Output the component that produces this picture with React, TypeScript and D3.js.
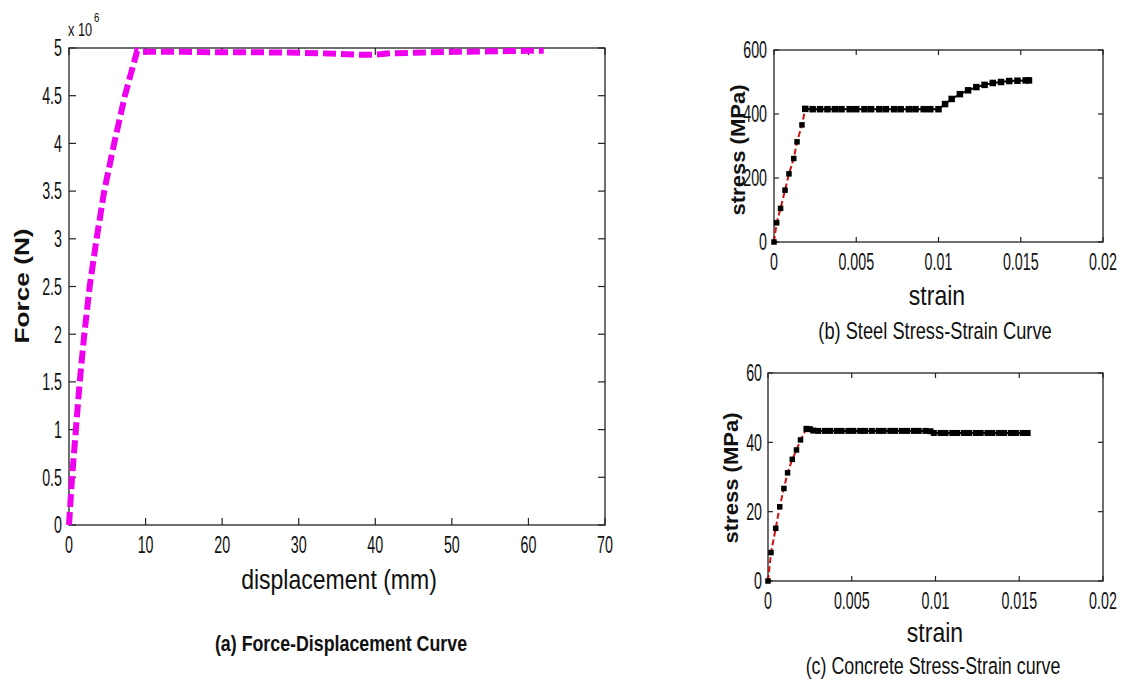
import React from "react";
import * as d3 from "d3";

// ---------- Data ----------
// (a) Force-Displacement (force in 1e6 N)
const fdDisp = [0, 0.4, 0.9, 1.4, 2.0, 2.7, 3.6, 4.6, 5.9, 7.3, 8.9, 9.5, 15, 20, 25, 30, 35, 38, 40, 42, 45, 50, 55, 60, 62];
const fdForce = [0, 0.5, 1.0, 1.5, 2.0, 2.5, 3.0, 3.5, 4.0, 4.5, 4.97, 4.96, 4.96, 4.955, 4.955, 4.95, 4.94, 4.93, 4.93, 4.945, 4.95, 4.96, 4.965, 4.97, 4.97];
const fdXTicks = [0, 10, 20, 30, 40, 50, 60, 70];
const fdYTicks = [0, 0.5, 1, 1.5, 2, 2.5, 3, 3.5, 4, 4.5, 5];
const fdYTickLabels = ["0", "0.5", "1", "1.5", "2", "2.5", "3", "3.5", "4", "4.5", "5"];

// (b) Steel stress-strain
const steelElasticStrain = [0, 0.00016, 0.0004, 0.00067, 0.00091, 0.0012, 0.0014, 0.0017, 0.0019];
const steelElasticStress = [0, 60, 105, 162, 213, 261, 313, 366, 416];
const steelPlasticStrain = [0.0019, 0.00235, 0.0028, 0.00325, 0.0037, 0.0041, 0.0046, 0.005, 0.0055, 0.0059, 0.0064, 0.0068, 0.0073, 0.0077, 0.0082, 0.0086, 0.0091, 0.0095, 0.01, 0.0104, 0.0108, 0.0113, 0.0118, 0.0123, 0.0128, 0.0133, 0.0138, 0.0143, 0.0148, 0.0153, 0.0155];
const steelPlasticStress = [416, 415, 415, 415, 415, 415, 415, 415, 415, 415, 415, 415, 415, 415, 415, 415, 415, 415, 415, 431, 447, 462, 474, 484, 491, 497, 500, 503, 504, 505, 505];
const steelYTicks = [0, 200, 400, 600];

// (c) Concrete stress-strain
const concElasticStrain = [0, 0.00018, 0.00046, 0.0007, 0.00095, 0.00117, 0.00145, 0.0017, 0.00194, 0.0023];
const concElasticStress = [0, 8.2, 15.2, 21.4, 26.7, 31.2, 35.1, 37.8, 40.7, 43.9];
const concPlasticStrain = [0.0023, 0.0025, 0.0027, 0.003, 0.0034, 0.0037, 0.0041, 0.0044, 0.0048, 0.0051, 0.0055, 0.0058, 0.0062, 0.0066, 0.0069, 0.0073, 0.0076, 0.008, 0.0083, 0.0087, 0.009, 0.0094, 0.0097, 0.0099, 0.0103, 0.0106, 0.011, 0.0113, 0.0117, 0.012, 0.0124, 0.0127, 0.0131, 0.0134, 0.0138, 0.0141, 0.0145, 0.0148, 0.0152, 0.0155];
const concPlasticStress = [43.9, 43.8, 43.4, 43.3, 43.3, 43.3, 43.3, 43.3, 43.3, 43.3, 43.3, 43.3, 43.3, 43.3, 43.3, 43.3, 43.3, 43.3, 43.3, 43.3, 43.3, 43.3, 43.2, 42.7, 42.7, 42.7, 42.7, 42.7, 42.7, 42.7, 42.7, 42.7, 42.7, 42.7, 42.7, 42.7, 42.7, 42.7, 42.7, 42.7];
const concYTicks = [0, 20, 40, 60];

const strainTicks = [0, 0.005, 0.01, 0.015, 0.02];
const strainTickLabels = ["0", "0.005", "0.01", "0.015", "0.02"];

const FONT = "'Liberation Sans', Arial, sans-serif";

type TProps = {
  x: number; y: number; size: number; sx?: number; sy?: number; anchor?: string;
  weight?: string | number; rot?: boolean; children: React.ReactNode; fill?: string;
};
function T({ x, y, size, sx = 1, sy = 1, anchor = "middle", weight = "normal", rot = false, children, fill = "#111" }: TProps) {
  return (
    <text
      transform={`translate(${x},${y}) scale(${sx},${sy})${rot ? " rotate(-90)" : ""}`}
      fontFamily={FONT}
      fontSize={size}
      fontWeight={weight}
      textAnchor={anchor}
      fill={fill}
    >
      {children}
    </text>
  );
}

type AxProps = {
  x: d3.ScaleLinear<number, number>; y: d3.ScaleLinear<number, number>;
  xt: number[]; xl: string[]; yt: number[]; yl: string[]; tl: number;
  xLabelY: number; yLabelX: number;
};
function Axes({ x, y, xt, xl, yt, yl, tl, xLabelY, yLabelX }: AxProps) {
  const [x0, x1] = x.range();
  const [y0, y1] = y.range();
  const tickSize = 21, tsx = 0.68, tsy = 1.12;
  return (
    <g>
      <rect x={x0} y={y1} width={x1 - x0} height={y0 - y1} fill="none" stroke="#222" strokeWidth={1.3} />
      {xt.map((t, i) => (
        <g key={"x" + i}>
          <line x1={x(t)} x2={x(t)} y1={y0} y2={y0 - tl} stroke="#222" strokeWidth={1.2} />
          <line x1={x(t)} x2={x(t)} y1={y1} y2={y1 + tl} stroke="#222" strokeWidth={1.2} />
          <T x={x(t)} y={xLabelY} size={tickSize} sx={tsx} sy={tsy}>{xl[i]}</T>
        </g>
      ))}
      {yt.map((t, i) => (
        <g key={"y" + i}>
          <line x1={x0} x2={x0 + tl} y1={y(t)} y2={y(t)} stroke="#222" strokeWidth={1.2} />
          <line x1={x1} x2={x1 - tl} y1={y(t)} y2={y(t)} stroke="#222" strokeWidth={1.2} />
          <T x={yLabelX} y={y(t) + 8.3} size={tickSize} sx={tsx} sy={tsy} anchor="end">{yl[i]}</T>
        </g>
      ))}
    </g>
  );
}

export default function App() {
  // (a)
  const ax = d3.scaleLinear().domain([0, 70]).range([69, 605]);
  const ay = d3.scaleLinear().domain([0, 5]).range([525, 48]);
  const fdLine = d3.line<number>().x((_, i) => ax(fdDisp[i])).y((v) => ay(v));

  // (b)
  const bx = d3.scaleLinear().domain([0, 0.02]).range([774, 1103]);
  const by = d3.scaleLinear().domain([0, 600]).range([242, 50]);
  const bEl = d3.line<number>().x((_, i) => bx(steelElasticStrain[i])).y((v) => by(v));
  const bPl = d3.line<number>().x((_, i) => bx(steelPlasticStrain[i])).y((v) => by(v));

  // (c)
  const cx = d3.scaleLinear().domain([0, 0.02]).range([768, 1103]);
  const cy = d3.scaleLinear().domain([0, 60]).range([581, 373]);
  const cEl = d3.line<number>().x((_, i) => cx(concElasticStrain[i])).y((v) => cy(v));
  const cPl = d3.line<number>().x((_, i) => cx(concPlasticStrain[i])).y((v) => cy(v));

  const markers = (xs: number[], ys: number[], sx: any, sy: any, key: string, ms: number) =>
    xs.map((s, i) => (
      <rect key={key + i} x={sx(s) - ms / 2} y={sy(ys[i]) - ms / 2} width={ms} height={ms} fill="#000" />
    ));

  return (
    <svg width={1131} height={688} style={{ position: "absolute", left: 0, top: 0, background: "#fff" }}>
      <rect x={0} y={0} width={1131} height={688} fill="#fff" />

      {/* (a) */}
      <Axes x={ax} y={ay} xt={fdXTicks} xl={fdXTicks.map(String)} yt={fdYTicks} yl={fdYTickLabels} tl={7} xLabelY={553} yLabelX={62} />
      <path d={fdLine(fdForce) || ""} fill="none" stroke="#ee00ee" strokeWidth={6} strokeDasharray="13 5" />
      <T x={68} y={36} size={16} sx={0.8} sy={1.1} anchor="start">x 10</T>
      <T x={94} y={22} size={12} sx={0.8} sy={1.1} anchor="start">6</T>
      <T x={29} y={286} size={21} sx={1} sy={1.25} rot weight="bold">Force (N)</T>
      <T x={339} y={589} size={24} sx={0.96} sy={1.12}>displacement (mm)</T>
      <T x={341} y={651} size={20} sx={0.89} sy={1.12} weight="bold">(a) Force-Displacement Curve</T>

      {/* (b) */}
      <Axes x={bx} y={by} xt={strainTicks} xl={strainTickLabels} yt={steelYTicks} yl={steelYTicks.map(String)} tl={5} xLabelY={270} yLabelX={767} />
      <path d={bPl(steelPlasticStress) || ""} fill="none" stroke="#000" strokeWidth={2} />
      <path d={bEl(steelElasticStress) || ""} fill="none" stroke="#d01010" strokeWidth={2} strokeDasharray="6 3" />
      {markers(steelElasticStrain, steelElasticStress, bx, by, "be", 5.5)}
      {markers(steelPlasticStrain, steelPlasticStress, bx, by, "bp", 6.5)}
      <T x={745} y={150} size={21} sy={1.05} rot weight="bold">stress (MPa)</T>
      <T x={937} y={305} size={24} sx={0.96} sy={1.12}>strain</T>
      <T x={935} y={339} size={21} sx={0.87} sy={1.12}>(b) Steel Stress-Strain Curve</T>

      {/* (c) */}
      <Axes x={cx} y={cy} xt={strainTicks} xl={strainTickLabels} yt={concYTicks} yl={concYTicks.map(String)} tl={5} xLabelY={609} yLabelX={762} />
      <path d={cPl(concPlasticStress) || ""} fill="none" stroke="#000" strokeWidth={2} />
      <path d={cEl(concElasticStress) || ""} fill="none" stroke="#d01010" strokeWidth={2} strokeDasharray="6 3" />
      {markers(concElasticStrain, concElasticStress, cx, cy, "ce", 5.5)}
      {markers(concPlasticStrain, concPlasticStress, cx, cy, "cp", 6)}
      <T x={738} y={478} size={21} sy={1.05} rot weight="bold">stress (MPa)</T>
      <T x={935} y={642} size={24} sx={0.96} sy={1.12}>strain</T>
      <T x={933} y={674} size={21} sx={0.85} sy={1.12}>(c) Concrete Stress-Strain curve</T>
    </svg>
  );
}
